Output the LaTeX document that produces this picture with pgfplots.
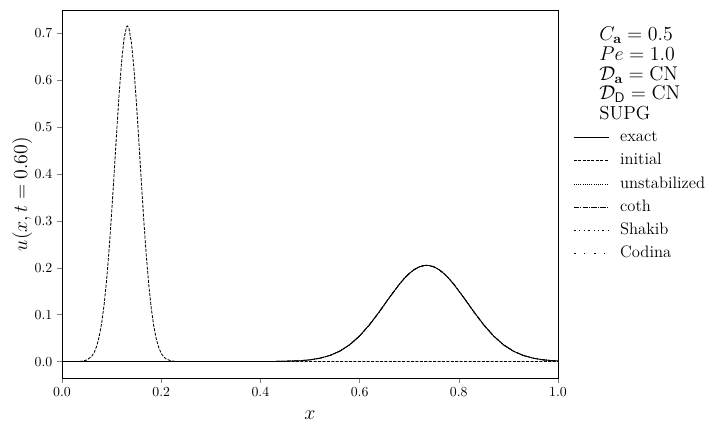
\documentclass[border=0pt]{standalone}
\usepackage{pgfplots}
\usepackage{pgfplotstable}
\pgfplotsset{compat=1.18}

% initial profile u(x,0)
\pgfplotstableread{
x u
0.000 0.0000
0.030 0.0000
0.040 0.0008
0.050 0.0033
0.060 0.0113
0.065 0.0197
0.070 0.0330
0.075 0.0531
0.080 0.0822
0.085 0.1221
0.090 0.1744
0.095 0.2392
0.100 0.3152
0.105 0.3991
0.110 0.4856
0.115 0.5674
0.120 0.6372
0.125 0.6875
0.130 0.7127
0.132 0.7150
0.135 0.7099
0.140 0.6793
0.145 0.6246
0.150 0.5518
0.155 0.4683
0.160 0.3819
0.165 0.2992
0.170 0.2252
0.175 0.1629
0.180 0.1132
0.185 0.0756
0.190 0.0485
0.195 0.0299
0.200 0.0177
0.205 0.0101
0.210 0.0055
0.220 0.0015
0.230 0.0003
0.250 0.0000
1.000 0.0000
}\initial

% solution at t = 0.60
\pgfplotstableread{
x u
0.000 0.0000
0.300 0.0000
0.400 0.0001
0.440 0.0004
0.480 0.0018
0.500 0.0037
0.520 0.0072
0.540 0.0130
0.560 0.0222
0.580 0.0358
0.600 0.0546
0.620 0.0785
0.640 0.1065
0.660 0.1363
0.680 0.1646
0.690 0.1770
0.700 0.1876
0.710 0.1959
0.720 0.2017
0.730 0.2046
0.735 0.2050
0.740 0.2046
0.750 0.2017
0.760 0.1959
0.770 0.1876
0.780 0.1770
0.790 0.1646
0.810 0.1363
0.830 0.1065
0.850 0.0785
0.870 0.0546
0.890 0.0358
0.910 0.0222
0.930 0.0130
0.950 0.0072
0.970 0.0037
0.990 0.0018
1.000 0.0013
}\exact

\begin{document}
\begin{tikzpicture}
\useasboundingbox (-44.81pt,-40.47pt) rectangle (476.26pt,273.18pt);
\begin{axis}[
  scale only axis, width=358.46pt, height=265.95pt,
  xmin=0, xmax=1, ymin=-0.035, ymax=0.749,
  clip=false,
  xtick={0,0.2,...,1.0}, ytick={0,0.1,...,0.7},
  tick align=outside, tick pos=left, major tick length=3.5pt,
  minor tick num=0,
  xticklabel style={/pgf/number format/fixed,/pgf/number format/precision=1,/pgf/number format/fixed zerofill},
  yticklabel style={/pgf/number format/fixed,/pgf/number format/precision=1,/pgf/number format/fixed zerofill},
  scaled ticks=false,
  xlabel={$x$}, ylabel={$u(x,t=0.60)$},
  label style={font=\fontsize{14.4}{17}\selectfont},
  xlabel style={at={(axis description cs:0.5,-0.1005)},anchor=center},
  ylabel style={at={(axis description cs:-0.0806,0.5)},anchor=center},
  every axis plot/.append style={line width=0.6pt, black},
  legend image code/.code={\draw[#1] (0pt,0pt) -- (25.3pt,0pt);},
  legend cell align=left,
  legend style={draw=none, fill=none, at={(axis description cs:1.0302,0.686)}, anchor=north west,
    inner sep=0pt, column sep=8pt, row sep=0pt,
    font=\fontsize{12}{14}\selectfont,
    nodes={inner sep=0pt, text height=11.5pt, text depth=5.3pt}},
]
\addplot[solid] table[x=x,y=u]{\exact};
\addplot[dash pattern=on 2.2pt off 1pt] table[x=x,y=u]{\initial};
\addplot[dash pattern=on 0.6pt off 1pt] table[x=x,y=u]{\exact};
\addplot[dash pattern=on 3.8pt off 1pt on 0.6pt off 1pt] table[x=x,y=u]{\exact};
\addplot[dash pattern=on 1.8pt off 2.4pt on 0.6pt off 2.4pt on 0.6pt off 2.4pt] table[x=x,y=u]{\exact};
\addplot[dash pattern=on 1.8pt off 6pt on 0.6pt off 6pt] table[x=x,y=u]{\exact};
\legend{exact,initial,unstabilized,coth,Shakib,Codina}
\node[anchor=north west, inner sep=0pt, align=left, font=\fontsize{13.6}{14.3}\selectfont]
  at (axis description cs:1.0827,0.9546)
  {$C_{\mathbf{a}}=0.5$\\ $Pe=1.0$\\ $\mathcal{D}_{\mathbf{a}}=\mathrm{CN}$\\ $\mathcal{D}_{\mathsf{D}}=\mathrm{CN}$\\ SUPG};
\end{axis}
\end{tikzpicture}
\end{document}
